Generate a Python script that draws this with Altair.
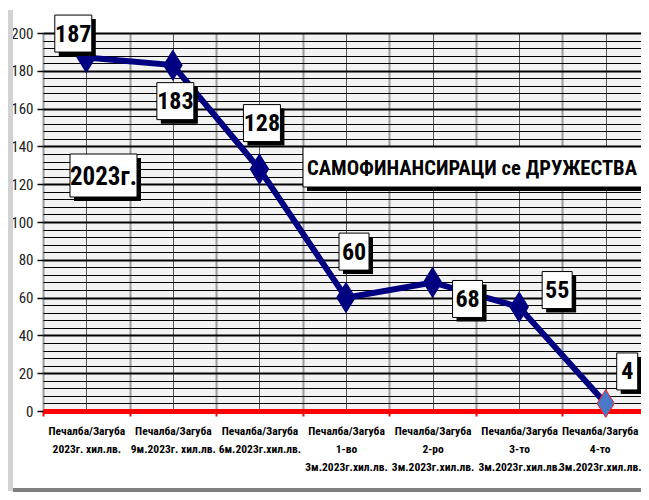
import json
import altair as alt
import pandas as pd

# ---------------- data ----------------
categories = [
    "Печалба/Загуба|2023г. хил.лв.",
    "Печалба/Загуба|9м.2023г. хил.лв.",
    "Печалба/Загуба|6м.2023г.хил.лв.",
    "Печалба/Загуба|1-во|3м.2023г.хил.лв.",
    "Печалба/Загуба|2-ро|3м.2023г.хил.лв.",
    "Печалба/Загуба|3-то|3м.2023г.хил.лв.",
    "Печалба/Загуба|4-то|3м.2023г.хил.лв.",
]
values = [187, 183, 128, 60, 68, 55, 4]

title_text = "САМОФИНАНСИРАЦИ  се ДРУЖЕСТВА"
year_text = "2023г."

# label placement (pixel offsets of label-box centre from its point)
label_dx = [-13, 2.5, 2.5, 8, 35, 38, 21.5]
label_dy = [-24, 36, -46, -46, 16.5, -17, -32]

# ---------------- layout ----------------
W, H = 606, 378
N = len(categories)
STEP = W / N            # px per category
PPU = H / 200.0         # px per value unit
FONT = "Roboto Condensed, Noto Sans Condensed, Liberation Sans Narrow, sans-serif"

def px_to_x(px):   # image px (plot left = 43) -> index units
    return (px - 43) / STEP - 0.5

def px_to_y(py):   # image px (zero line = 411) -> value units
    return (411 - py) / PPU

df = pd.DataFrame({"idx": list(range(N)), "value": values})

lab_rows = []
for i, v in enumerate(values):
    w = 12 + 9 * len(str(v)) - (2 if len(str(v)) == 3 else 0)
    h = 37
    lx = i + label_dx[i] / STEP
    ly = v - label_dy[i] / PPU
    lab_rows.append(dict(text=str(v), lx=lx, ly=ly,
                         x1=lx - w / 2 / STEP, x2=lx + w / 2 / STEP,
                         y1=ly + h / 2 / PPU, y2=ly - h / 2 / PPU))
labs = pd.DataFrame(lab_rows)

notes = pd.DataFrame([
    dict(text=year_text, tx=px_to_x(103.5), ty=px_to_y(176), align="center",
         x1=px_to_x(70), x2=px_to_x(137), y1=px_to_y(154), y2=px_to_y(197)),
    dict(text=title_text, tx=px_to_x(307), ty=px_to_y(168), align="left",
         x1=px_to_x(303), x2=px_to_x(665), y1=px_to_y(147), y2=px_to_y(187)),
])

cat_js = json.dumps(categories, ensure_ascii=False)
x_ticks = [i / 2 - 0.5 for i in range(2 * N + 1)]
y_ticks = list(range(0, 201, 4))

x_scale = alt.Scale(domain=[-0.5, N - 0.5], nice=False, zero=False)
y_scale = alt.Scale(domain=[0, 200], nice=False)

x_axis = alt.Axis(
    values=x_ticks, tickCount=len(x_ticks) + 5, title=None,
    labelExpr=f"datum.value % 1 == 0 ? split({cat_js}[datum.value], '|') : ''",
    labelFont=FONT, labelFontWeight="bold", labelFontSize=11.5, labelColor="black",
    labelLineHeight=18, labelBaseline="top", labelPadding=9, labelOverlap=False,
    labelAngle=0, labelFlush=False, labelBound=False,
    labelOffset={"condition": {"test": f"datum.value == {N - 1}", "value": -6}, "value": 0},
    domainColor="#ff0000", domainWidth=5,
    tickColor="#ff0000", tickWidth=2, tickSize=5,
    tickOpacity={"condition": {"test": "datum.value % 1 != 0", "value": 1}, "value": 0},
    grid=True,
    gridColor={"condition": {"test": "datum.value % 1 != 0", "value": "#9a9a9a"}, "value": "#555555"},
    gridWidth={"condition": {"test": "datum.value % 1 != 0", "value": 2}, "value": 1},
)

y_axis = alt.Axis(
    values=y_ticks, tickCount=len(y_ticks) + 5, title=None,
    labelExpr="datum.value % 20 == 0 ? datum.label : ''",
    labelFont=FONT, labelFontSize=15, labelColor="#222222", labelPadding=4,
    labelOverlap=False, labelBound=False,
    tickColor="black", tickSize=6, tickWidth=1.5,
    tickOpacity={"condition": {"test": "datum.value % 20 == 0", "value": 1}, "value": 0},
    domain=False, grid=True, gridColor="black",
    gridWidth={"condition": {"test": "datum.value % 20 == 0", "value": 2}, "value": 1},
)

X = alt.X("idx:Q", scale=x_scale, axis=x_axis)
Y = alt.Y("value:Q", scale=y_scale, axis=y_axis)

base = alt.Chart(df)

line = base.mark_line(color="#000080", strokeWidth=6).encode(x=X, y=Y)

DIAMOND = "M0,-1L0.62,0L0,1L-0.62,0Z"
pts = base.transform_filter("datum.idx < 6").mark_point(
    shape=DIAMOND, size=780, filled=True, fill="#000080", stroke="#000080", opacity=1
).encode(x="idx:Q", y="value:Q")
last = base.transform_filter("datum.idx == 6").mark_point(
    shape=DIAMOND, size=780, filled=True, fill="#4a78c8", stroke="#ff2020",
    strokeWidth=1, opacity=1
).encode(x="idx:Q", y="value:Q")

lb = alt.Chart(labs)
shadow = lb.mark_rect(color="black", xOffset=4, x2Offset=4, yOffset=4, y2Offset=4).encode(
    x="x1:Q", x2="x2:Q", y="y1:Q", y2="y2:Q")
box = lb.mark_rect(fill="white", stroke="black", strokeWidth=1).encode(
    x="x1:Q", x2="x2:Q", y="y1:Q", y2="y2:Q")
txt = lb.mark_text(font=FONT, fontSize=24, fontWeight="bold", color="black",
                   baseline="middle", align="center", dy=1).encode(
    x="lx:Q", y="ly:Q", text="text:N")

nb = alt.Chart(notes)
n_shadow = nb.mark_rect(color="black", xOffset=4, x2Offset=4, yOffset=4, y2Offset=4).encode(
    x="x1:Q", x2="x2:Q", y="y1:Q", y2="y2:Q")
n_box = nb.mark_rect(fill="white", stroke="black", strokeWidth=1).encode(
    x="x1:Q", x2="x2:Q", y="y1:Q", y2="y2:Q")
n_year = nb.transform_filter(alt.datum.align == "center").mark_text(
    font=FONT, fontSize=25, fontWeight="bold", color="black", baseline="middle",
    align="center", dy=1).encode(x="tx:Q", y="ty:Q", text="text:N")
n_title = nb.transform_filter(alt.datum.align == "left").mark_text(
    font=FONT, fontSize=20.6, fontWeight="bold", color="black", baseline="middle",
    align="left", dy=1).encode(x="tx:Q", y="ty:Q", text="text:N")

# decorative 3-D frame pieces
frame_left = alt.Chart(df).mark_rect(color="#d2d2d2").encode(
    x=alt.value(-35), x2=alt.value(-30), y=alt.value(-23), y2=alt.value(458))
frame_bottom = alt.Chart(df).mark_rect(color="#808080").encode(
    x=alt.value(-30), x2=alt.value(W), y=alt.value(455), y2=alt.value(470))

chart = alt.layer(
    frame_left, frame_bottom,
    line, pts, last,
    shadow, box, txt,
    n_shadow, n_box, n_year, n_title,
).properties(
    width=W, height=H,
    padding={"left": 35, "top": 25, "right": -8, "bottom": 81},
    autosize=alt.AutoSizeParams(type="none"),
    background="white",
).configure_view(fill="#f2f2f2", stroke=None)

chart.save("out.html", embed_options={"renderer": "svg", "actions": False})
